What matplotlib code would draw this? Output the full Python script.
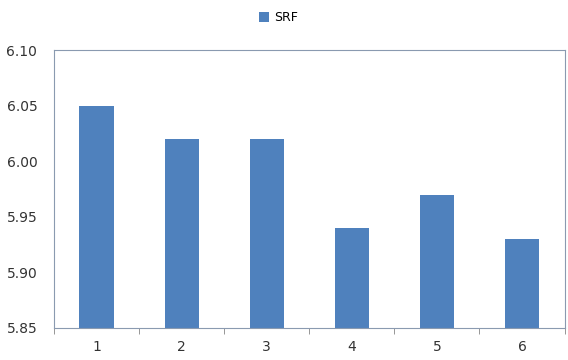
import numpy as np
import matplotlib.pyplot as plt

categories = ['1', '2', '3', '4', '5', '6']
srf = [6.05, 6.02, 6.02, 5.94, 5.97, 5.93]

fig = plt.figure(figsize=(5.68, 3.6), dpi=100)
ax = fig.add_axes([0.095, 0.089, 0.899, 0.772])

x = np.arange(len(categories))
ax.bar(x, srf, width=0.4, color='#4f81bd', label='SRF', zorder=2)

ax.set_ylim(5.85, 6.10)
ax.set_yticks(np.arange(5.85, 6.101, 0.05))
ax.set_yticklabels(['%.2f' % v for v in np.arange(5.85, 6.101, 0.05)])
ax.set_xlim(-0.5, len(categories) - 0.5)

# category labels in the middle, tick marks on the boundaries
ax.set_xticks(x)
ax.set_xticklabels(categories)
ax.set_xticks(np.arange(-0.5, len(categories)), minor=True)
ax.tick_params(axis='x', which='major', length=0, pad=9)
ax.tick_params(axis='x', which='minor', length=4, direction='out', color='#868686')
ax.tick_params(axis='y', length=0, pad=12)
ax.tick_params(labelsize=10, labelcolor='#333333')

for side in ['left', 'right', 'top', 'bottom']:
    ax.spines[side].set_color('#8a9ab0')
    ax.spines[side].set_linewidth(0.8)

fig.legend(loc='upper center', bbox_to_anchor=(0.49, 1.0), frameon=False,
           fontsize=9, handlelength=0.8, handleheight=0.8, handletextpad=0.4)

fig.savefig('out.png', dpi=100)
